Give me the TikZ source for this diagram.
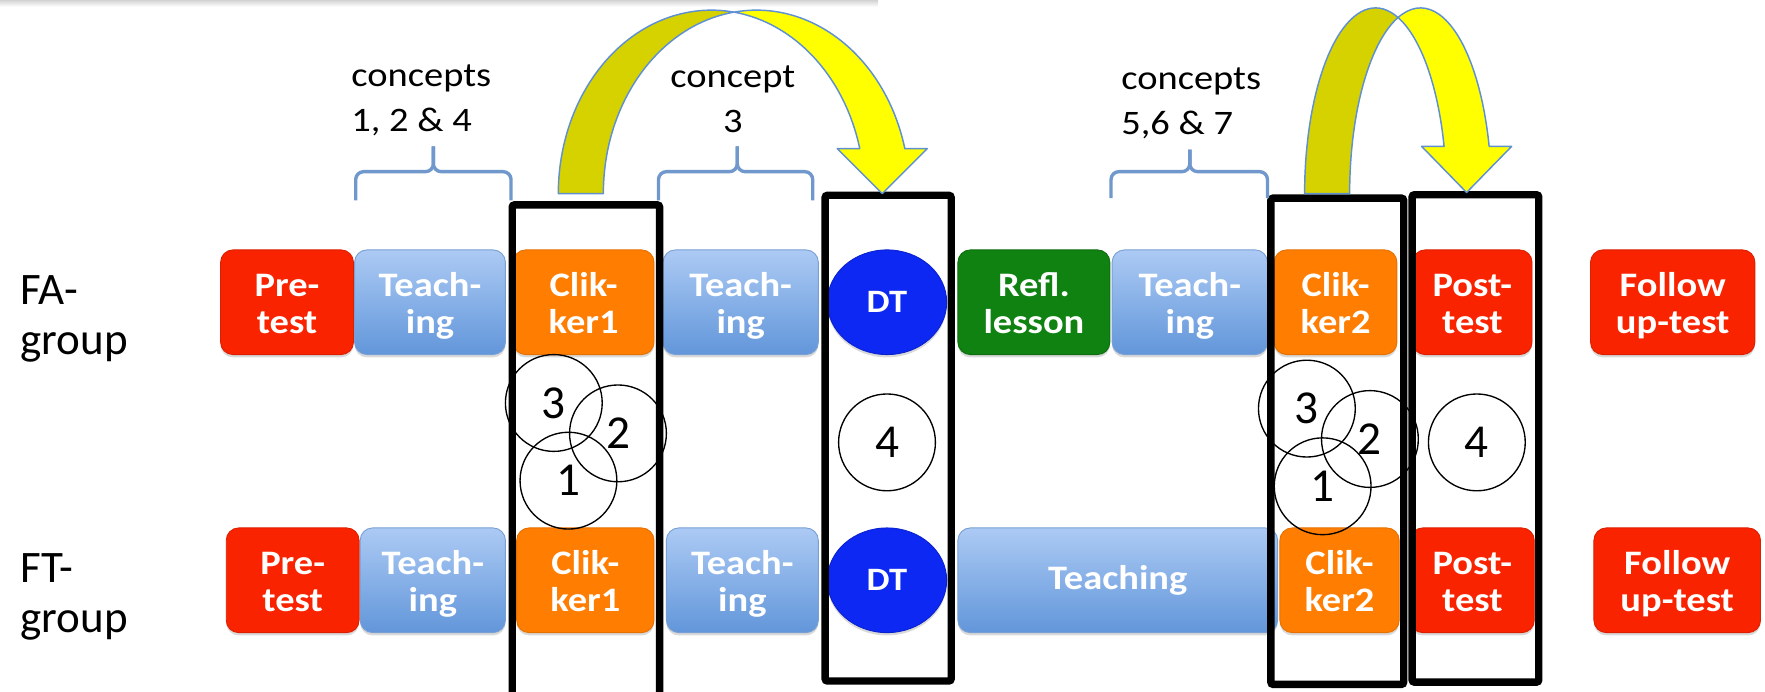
\documentclass[tikz,border=0pt]{standalone}
\usepackage{fontspec}
\setmainfont{Carlito}
\newfontfamily\widefont{Carlito}[FakeStretch=1.12]
\usetikzlibrary{shapes.geometric,shadows}
\definecolor{redb}{RGB}{250,35,0}
\definecolor{orab}{RGB}{255,125,0}
\definecolor{greb}{RGB}{16,130,18}
\definecolor{blub}{RGB}{12,40,242}
\definecolor{tbtop}{RGB}{172,202,244}
\definecolor{tbbot}{RGB}{98,150,218}
\definecolor{tbline}{RGB}{120,160,212}
\definecolor{bracec}{RGB}{112,152,204}
\definecolor{arrline}{RGB}{95,145,210}
\definecolor{olivey}{RGB}{214,210,0}
\definecolor{brighty}{RGB}{255,255,0}
\newcommand\topstr{\rule{0pt}{30pt}}
\newcommand\botstr{\rule[-7.5pt]{0pt}{7.5pt}}
\newcommand\onestr{\rule[-7pt]{0pt}{30pt}}
\newcommand\cstr{\rule{0pt}{25pt}}
\newcommand\lstr{\rule{0pt}{30pt}}
\tikzset{
  box/.style={rounded corners=11pt, minimum height=93pt, inner sep=0pt, text=white,
    align=center, font=\widefont\fontsize{30.5}{32.5}\selectfont\bfseries,
    drop shadow={shadow xshift=0pt, shadow yshift=-2.5pt, opacity=0.3}},
  redbox/.style={box, fill=redb, draw=redb!88!black, line width=0.8pt},
  orabox/.style={box, fill=orab, draw=orab!90!black, line width=0.8pt},
  grebox/.style={box, fill=greb, draw=greb!85!black, line width=0.8pt},
  teachbox/.style={box, top color=tbtop, bottom color=tbbot, draw=tbline, line width=0.8pt},
  dtnode/.style={ellipse, fill=blub, draw=blub!85!black, line width=0.8pt, inner sep=0pt,
    minimum width=106pt, minimum height=93pt, text=white,
    font=\widefont\fontsize{29}{29}\selectfont\bfseries,
    drop shadow={shadow xshift=0pt, shadow yshift=-2.5pt, opacity=0.3}},
  frame/.style={draw=black, line width=6.5pt, rounded corners=2pt, inner sep=0pt, outer sep=0pt},
  circ/.style={circle, draw=black, line width=1.2pt, minimum size=86pt, inner sep=0pt,
    font=\fontsize{42}{42}\selectfont},
  brace/.style={draw=bracec, line width=3pt, rounded corners=7pt},
  ctext/.style={inner sep=0pt, font=\widefont\fontsize{30.5}{40}\selectfont},
  lab/.style={inner sep=0pt, align=left, font=\fontsize{40}{45}\selectfont},
  arrow/.style={draw=arrline, line width=1.3pt, line join=round},
}
\begin{document}
\begin{tikzpicture}[x=1pt,y=1pt]
\useasboundingbox (0,0) rectangle (1568,-614);
\shade[top color=gray!35, bottom color=white] (0,0) rectangle (780,-6);

% FA row
\node[redbox, minimum width=118pt] (preA) at (255,-268.5) {\topstr Pre-\\test\botstr};
\node[teachbox, minimum width=134pt] (teachA1) at (382,-268.5) {\topstr Teach-\\ing\botstr};
\node[orabox, minimum width=125pt] (clikA1) at (518.5,-268.5) {\topstr Clik-\\ker1\botstr};
\node[teachbox, minimum width=138pt] (teachA2) at (658,-268.5) {\topstr Teach-\\ing\botstr};
\node[dtnode] (dtA) at (788,-268.5) {DT};
\node[grebox, minimum width=135pt] (refl) at (918.5,-268.5) {\topstr Refl.\\lesson\botstr};
\node[teachbox, minimum width=138pt] (teachA3) at (1057,-268.5) {\topstr Teach-\\ing\botstr};
\node[orabox, minimum width=109pt] (clikA2) at (1186.5,-268.5) {\topstr Clik-\\ker2\botstr};
\node[redbox, minimum width=106pt] (postA) at (1308,-268.5) {\topstr Post-\\test\botstr};
\node[redbox, minimum width=146pt] (follA) at (1486,-268.5) {\topstr Follow\\up-test\botstr};

% FT row
\node[redbox, minimum width=118pt] (preB) at (260,-515.5) {\topstr Pre-\\test\botstr};
\node[teachbox, minimum width=129pt] (teachB1) at (384.5,-515.5) {\topstr Teach-\\ing\botstr};
\node[orabox, minimum width=122pt] (clikB1) at (520,-515.5) {\topstr Clik-\\ker1\botstr};
\node[teachbox, minimum width=135pt] (teachB2) at (659.5,-515.5) {\topstr Teach-\\ing\botstr};
\node[dtnode] (dtB) at (788,-515.5) {DT};
\node[teachbox, minimum width=284pt] (teachB3) at (993,-515.5) {\onestr Teaching};
\node[orabox, minimum width=106pt] (clikB2) at (1190,-515.5) {\topstr Clik-\\ker2\botstr};
\node[redbox, minimum width=110pt] (postB) at (1308,-515.5) {\topstr Post-\\test\botstr};
\node[redbox, minimum width=148pt] (follB) at (1490,-515.5) {\topstr Follow\\up-test\botstr};

% group labels
\node[lab, anchor=north west] (faLab) at (18,-240) {\lstr FA-\\group};
\node[lab, anchor=north west] (ftLab) at (18,-487) {\lstr FT-\\group};

% frames
\node[frame, minimum width=131pt, minimum height=458pt] (f1) at (520.5,-411) {};
\node[frame, minimum width=112pt, minimum height=431.5pt] (f2) at (789,-389.25) {};
\node[frame, minimum width=118pt, minimum height=432pt] (f3) at (1188,-392) {};
\node[frame, minimum width=112.5pt, minimum height=433pt] (f4) at (1310.75,-389.5) {};

% circles
\node[circ] (c3a) at (492,-358) {3};
\node[circ] (c2a) at (549,-385) {2};
\node[circ] (c1a) at (505,-427) {1};
\node[circ] (c4a) at (788,-393) {4};
\node[circ] (c3b) at (1161,-363) {3};
\node[circ] (c2b) at (1217,-390) {2};
\node[circ] (c1b) at (1175,-432) {1};
\node[circ] (c4b) at (1312,-393) {4};

% braces
\draw[brace] (316,-178) -- (316,-152.5) -- (385,-152.5) -- (385,-130);
\draw[brace] (454,-178) -- (454,-152.5) -- (385,-152.5) -- (385,-130);
\draw[brace] (585,-178) -- (585,-152.5) -- (655,-152.5) -- (655,-130);
\draw[brace] (722,-178) -- (722,-152.5) -- (655,-152.5) -- (655,-130);
\draw[brace] (987,-176) -- (987,-152.5) -- (1057,-152.5) -- (1057,-133);
\draw[brace] (1126,-176) -- (1126,-152.5) -- (1057,-152.5) -- (1057,-133);

% concept texts
\node[ctext, anchor=north west, align=left] (t1) at (312,-52) {\cstr concepts\\1, 2 \& 4};
\node[ctext, anchor=north, align=center] (t2) at (651,-52.5) {\cstr concept\\3};
\node[ctext, anchor=north west, align=left] (t3) at (996,-54) {\cstr concepts\\5,6 \& 7};

% curved arrow 1 (from Clik-ker1 frame to DT frame)
\filldraw[arrow, fill=olivey] (496,-172)
  arc[start angle=180, end angle=81.54, x radius=136, y radius=163]
  arc[start angle=98.46, end angle=180, x radius=136, y radius=163] -- cycle;
\filldraw[arrow, fill=brighty] (652,-10.8)
  arc[start angle=98.46, end angle=14.2, x radius=136, y radius=163]
  -- (823.8,-132) -- (783.8,-172) -- (743.8,-132) -- (763.8,-132)
  arc[start angle=14.2, end angle=81.54, x radius=136, y radius=163] -- cycle;

% curved arrow 2 (from Clik-ker2 frame to Post-test frame)
\filldraw[arrow, fill=olivey] (1159,-172)
  arc[start angle=180, end angle=71.49, x radius=63, y radius=165]
  arc[start angle=108.51, end angle=180, x radius=63, y radius=165] -- cycle;
\filldraw[arrow, fill=brighty] (1242,-15.55)
  arc[start angle=108.51, end angle=14.75, x radius=63, y radius=165]
  -- (1342.9,-130) -- (1302.9,-171) -- (1262.9,-130) -- (1282.9,-130)
  arc[start angle=14.75, end angle=71.49, x radius=63, y radius=165] -- cycle;
\end{tikzpicture}
\end{document}
